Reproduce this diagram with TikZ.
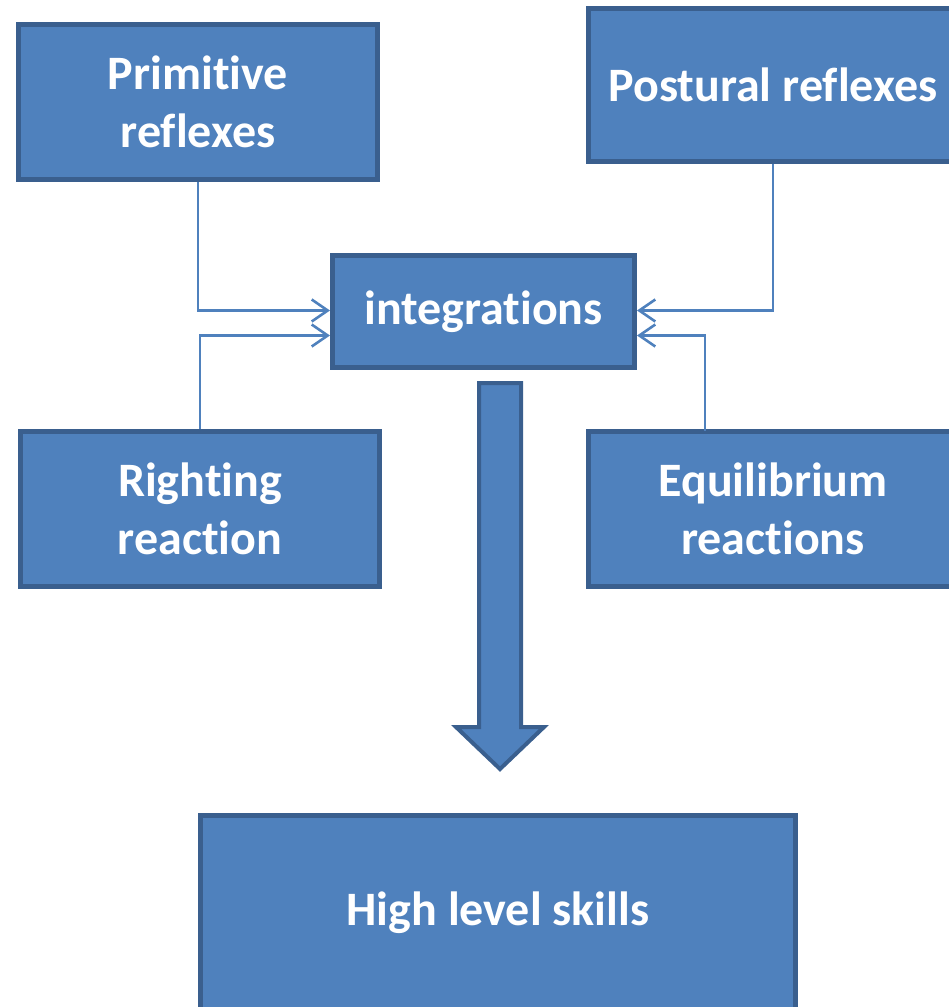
\documentclass[tikz,border=0pt]{standalone}
\usepackage{fontspec}
\setmainfont{Carlito}[Ligatures=NoCommon]
\usetikzlibrary{arrows.meta}
\definecolor{boxfill}{HTML}{4F81BD}
\definecolor{boxline}{HTML}{3A5F8E}

\begin{document}
\begin{tikzpicture}[x=1pt,y=-1pt,
    box/.style={draw=boxline,fill=boxfill,line width=5pt,text=white,
        align=center,inner sep=0pt,font=\fontsize{48}{58}\selectfont\bfseries},
    link/.style={draw=boxfill,line width=2.6pt,
        -{Straight Barb[length=16pt,width=22pt,line width=2.6pt]}},
    bigarrow/.style={draw=boxline,fill=boxfill,line width=4pt,line join=miter},
]
\clip (0,0) rectangle (949,1007);
\path
node[box,minimum width=359pt,minimum height=155pt] (prim) at (198,102) {Primitive\\reflexes}
node[box,minimum width=370pt,minimum height=153pt] (post) at (773,85) {Postural reflexes}
node[box,minimum width=302pt,minimum height=112pt] (integ) at (483.5,311.5) {integrations}
node[box,minimum width=359pt,minimum height=155pt] (right) at (200,509) {Righting\\reaction}
node[box,minimum width=370pt,minimum height=155pt] (equil) at (773,509) {Equilibrium\\reactions}
node[box,minimum width=595pt,minimum height=195pt] (skills) at (498,913) {High level skills}
;
\coordinate (eqtop) at (705,431);

\draw[link] (prim.south) |- ([yshift=1pt]integ.west);
\draw[link] (right.north) |- ([yshift=-24pt]integ.west);
\draw[link] (post.south) |- ([yshift=1pt]integ.east);
\draw[link] (eqtop) |- ([yshift=-24pt]integ.east);

% big arrow down to the skills box
\draw[bigarrow] (479,383) -- (521,383) -- (521,727) -- (544,727) -- (500,769)
    -- (456,727) -- (479,727) -- cycle;
\end{tikzpicture}
\end{document}
